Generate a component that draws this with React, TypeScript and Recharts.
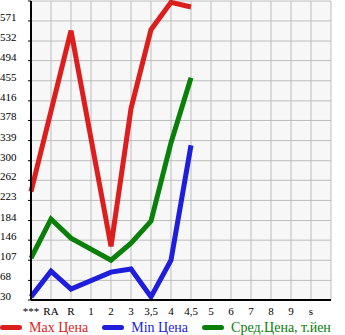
import { LineChart, Line, XAxis, YAxis, CartesianGrid, Legend } from "recharts";

const categories = ["***", "RA", "R", "1", "2", "3", "3,5", "4", "4,5", "5", "6", "7", "8", "9", "s"];
const maxPrice = [240, null, 552, null, 134, 401, 554, 607, 598, null, null, null, null, null, null];
const minPrice = [36, 86, 51, null, 84, 90, 36, 107, 330, null, null, null, null, null, null];
const avgPrice = [111, 187, 150, null, 107, 140, 183, 335, 461, null, null, null, null, null, null];
const yTicks = [30, 68, 107, 146, 184, 223, 262, 300, 339, 378, 416, 455, 494, 532, 571];
const yMax = 609.6;

const series = [
  { key: "max", name: "Max Цена", color: "#dc1e1e" },
  { key: "min", name: "Min Цена", color: "#1e1edc" },
  { key: "avg", name: "Сред.Цена, т.йен", color: "#0a800a" },
];

const data = categories.map((c, i) => ({
  x: i,
  max: maxPrice[i],
  min: minPrice[i],
  avg: avgPrice[i],
}));

const FONT = "'Liberation Serif', 'DejaVu Serif', serif";

function YTick({ y, payload }: any) {
  if (payload.value >= yMax) return null;
  return (
    <text x={0} y={y} textAnchor="start" fontSize={11} fontFamily={FONT} fill="#000">
      {payload.value}
    </text>
  );
}

function XTick({ x, y, payload }: any) {
  const label = categories[payload.value];
  if (!label) return null;
  return (
    <text x={x} y={y + 7} textAnchor="middle" fontSize={11} fontFamily={FONT} fill="#000">
      {label}
    </text>
  );
}

function LegendContent() {
  return (
    <div style={{ display: "flex", alignItems: "center", height: 15, fontFamily: FONT, fontSize: 14 }}>
      {series.map((s) => (
        <div key={s.key} style={{ display: "flex", alignItems: "center", marginRight: 14 }}>
          <span style={{ display: "inline-block", width: 22, height: 5, borderRadius: 3, background: s.color, marginRight: 7 }} />
          <span style={{ color: s.color, whiteSpace: "nowrap" }}>{s.name}</span>
        </div>
      ))}
    </div>
  );
}

export default function App() {
  return (
    <div style={{ position: "absolute", left: 0, top: 0 }}>
      <LineChart width={345} height={335} data={data} margin={{ top: 1, right: 14, left: 0, bottom: 0 }}>
        <CartesianGrid stroke="#bdbdbd" fill="#f7f7f7" />
        <XAxis
          dataKey="x"
          type="number"
          domain={[0, 15]}
          ticks={[...categories.map((_, i) => i), 15]}
          tick={<XTick />}
          tickLine={false}
          axisLine={{ stroke: "#000", strokeWidth: 2 }}
          height={20}
          interval={0}
        />
        <YAxis
          type="number"
          domain={[30, yMax]}
          ticks={[...yTicks, yMax]}
          tick={<YTick />}
          tickSize={3}
          tickLine={{ stroke: "#000" }}
          axisLine={{ stroke: "#000", strokeWidth: 2 }}
          width={31}
          interval={0}
        />
        <Legend
          verticalAlign="bottom"
          height={15}
          content={<LegendContent />}
          wrapperStyle={{ left: 0, width: 345 }}
        />
        {series.map((s) => (
          <Line
            key={s.key}
            dataKey={s.key}
            name={s.name}
            stroke={s.color}
            strokeWidth={5}
            dot={false}
            activeDot={false}
            connectNulls
            isAnimationActive={false}
          />
        ))}
      </LineChart>
    </div>
  );
}
